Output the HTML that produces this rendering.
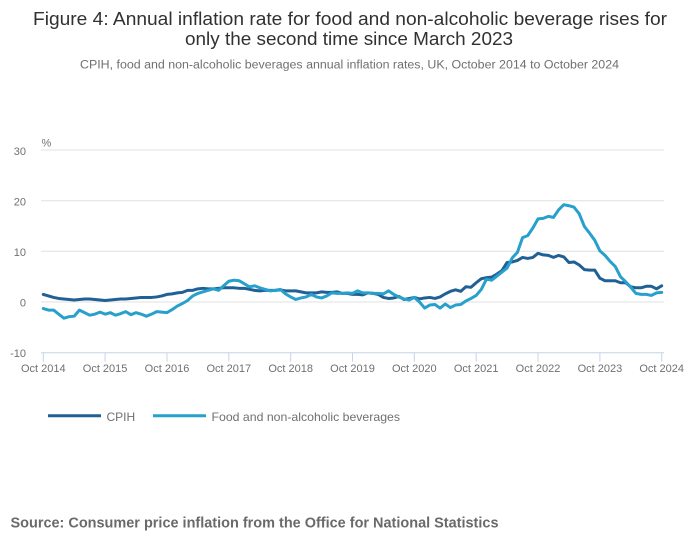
<!DOCTYPE html>
<html>
<head>
<meta charset="utf-8">
<style>
  html, body { margin:0; padding:0; background:#fff; }
  svg { display:block; }
  text { font-family: "Liberation Sans", sans-serif; }
</style>
</head>
<body>
<svg width="700" height="549" viewBox="0 0 700 549" xmlns="http://www.w3.org/2000/svg">
  <rect x="0" y="0" width="700" height="549" fill="#ffffff"/>

  <!-- Title -->
  <text x="350" y="25" text-anchor="middle" font-size="18.5" fill="#323132" textLength="634" lengthAdjust="spacingAndGlyphs">Figure 4: Annual inflation rate for food and non-alcoholic beverage rises for</text>
  <text x="349" y="45" text-anchor="middle" font-size="18.5" fill="#323132" textLength="328" lengthAdjust="spacingAndGlyphs">only the second time since March 2023</text>
  <text x="349.5" y="68.3" text-anchor="middle" font-size="11.5" fill="#707070" textLength="539" lengthAdjust="spacingAndGlyphs">CPIH, food and non-alcoholic beverages annual inflation rates, UK, October 2014 to October 2024</text>

  <!-- Gridlines -->
  <g stroke="#e0e0e0" stroke-width="1">
    <line x1="41" y1="150" x2="664" y2="150"/>
    <line x1="41" y1="200.7" x2="664" y2="200.7"/>
    <line x1="41" y1="251.3" x2="664" y2="251.3"/>
    <line x1="41" y1="302" x2="664" y2="302"/>
  </g>
  <!-- X axis line -->
  <line x1="41" y1="352.7" x2="664" y2="352.7" stroke="#c5d4e6" stroke-width="1"/>
  <g stroke="#c5d4e6" stroke-width="1">
    <line x1="43.3" y1="352.7" x2="43.3" y2="361.7"/>
    <line x1="105.1" y1="352.7" x2="105.1" y2="361.7"/>
    <line x1="167" y1="352.7" x2="167" y2="361.7"/>
    <line x1="228.8" y1="352.7" x2="228.8" y2="361.7"/>
    <line x1="290.7" y1="352.7" x2="290.7" y2="361.7"/>
    <line x1="352.5" y1="352.7" x2="352.5" y2="361.7"/>
    <line x1="414.3" y1="352.7" x2="414.3" y2="361.7"/>
    <line x1="476.2" y1="352.7" x2="476.2" y2="361.7"/>
    <line x1="538" y1="352.7" x2="538" y2="361.7"/>
    <line x1="599.9" y1="352.7" x2="599.9" y2="361.7"/>
    <line x1="661.7" y1="352.7" x2="661.7" y2="361.7"/>
  </g>

  <!-- Y labels -->
  <g font-size="11" fill="#707070" text-anchor="end">
    <text x="26" y="155">30</text>
    <text x="26" y="205.5">20</text>
    <text x="26" y="256">10</text>
    <text x="26" y="306.5">0</text>
    <text x="26" y="357">-10</text>
  </g>
  <text x="41.5" y="146.5" font-size="11" fill="#707070">%</text>

  <!-- X labels -->
  <g font-size="11" fill="#707070" text-anchor="middle">
    <text x="43.3" y="372">Oct 2014</text>
    <text x="105.1" y="372">Oct 2015</text>
    <text x="167" y="372">Oct 2016</text>
    <text x="228.8" y="372">Oct 2017</text>
    <text x="290.7" y="372">Oct 2018</text>
    <text x="352.5" y="372">Oct 2019</text>
    <text x="414.3" y="372">Oct 2020</text>
    <text x="476.2" y="372">Oct 2021</text>
    <text x="538" y="372">Oct 2022</text>
    <text x="599.9" y="372">Oct 2023</text>
    <text x="661.7" y="372">Oct 2024</text>
  </g>

  <!-- Series -->
  <g transform="translate(43.3,302) scale(5.1533,-5.067)">
    <polyline fill="none" stroke="#206095" stroke-width="3" vector-effect="non-scaling-stroke" stroke-linejoin="round" stroke-linecap="round"
      points="0,1.5 1,1.2 2,0.9 3,0.7 4,0.6 5,0.5 6,0.4 7,0.5 8,0.6 9,0.6 10,0.5 11,0.4 12,0.3 13,0.4 14,0.5 15,0.6 16,0.6 17,0.7 18,0.8 19,0.9 20,0.9 21,0.9 22,1.0 23,1.2 24,1.5 25,1.6 26,1.8 27,1.9 28,2.3 29,2.3 30,2.6 31,2.7 32,2.6 33,2.6 34,2.7 35,2.8 36,2.8 37,2.8 38,2.7 39,2.7 40,2.5 41,2.3 42,2.2 43,2.3 44,2.3 45,2.3 46,2.4 47,2.2 48,2.2 49,2.2 50,2.0 51,1.8 52,1.8 53,1.8 54,2.0 55,1.9 56,1.9 57,2.0 58,1.7 59,1.7 60,1.5 61,1.5 62,1.4 63,1.8 64,1.7 65,1.5 66,0.9 67,0.7 68,0.8 69,1.1 70,0.5 71,0.7 72,0.9 73,0.6 74,0.8 75,0.9 76,0.7 77,1.0 78,1.6 79,2.1 80,2.4 81,2.1 82,3.0 83,2.9 84,3.8 85,4.6 86,4.8 87,4.9 88,5.5 89,6.2 90,7.8 91,7.9 92,8.2 93,8.8 94,8.6 95,8.8 96,9.6 97,9.3 98,9.2 99,8.8 100,9.2 101,8.9 102,7.8 103,7.9 104,7.3 105,6.4 106,6.3 107,6.3 108,4.7 109,4.2 110,4.2 111,4.2 112,3.8 113,3.8 114,3.0 115,2.8 116,2.8 117,3.1 118,3.1 119,2.6 120,3.2"/>
    <polyline fill="none" stroke="#27a0cc" stroke-width="3" vector-effect="non-scaling-stroke" stroke-linejoin="round" stroke-linecap="round"
      points="0,-1.3 1,-1.6 2,-1.6 3,-2.4 4,-3.2 5,-2.9 6,-2.8 7,-1.6 8,-2.1 9,-2.6 10,-2.4 11,-2.0 12,-2.4 13,-2.1 14,-2.6 15,-2.3 16,-1.9 17,-2.5 18,-2.1 19,-2.4 20,-2.8 21,-2.4 22,-1.9 23,-2.0 24,-2.1 25,-1.5 26,-0.8 27,-0.3 28,0.3 29,1.2 30,1.7 31,2.0 32,2.3 33,2.6 34,2.3 35,3.2 36,4.1 37,4.3 38,4.2 39,3.6 40,3.0 41,3.2 42,2.8 43,2.5 44,2.2 45,2.3 46,2.5 47,1.6 48,1.0 49,0.5 50,0.8 51,1.0 52,1.5 53,1.0 54,0.8 55,1.2 56,1.8 57,1.7 58,1.7 59,1.8 60,1.7 61,2.2 62,1.8 63,1.8 64,1.7 65,1.7 66,1.6 67,2.2 68,1.5 69,1.0 70,0.6 71,0.4 72,0.9 73,0.0 74,-1.2 75,-0.6 76,-0.5 77,-1.2 78,-0.4 79,-1.1 80,-0.6 81,-0.5 82,0.2 83,0.7 84,1.3 85,2.5 86,4.5 87,4.3 88,5.1 89,5.9 90,6.7 91,8.7 92,9.8 93,12.7 94,13.1 95,14.6 96,16.4 97,16.5 98,16.9 99,16.7 100,18.2 101,19.2 102,19.0 103,18.7 104,17.4 105,14.9 106,13.6 107,12.2 108,10.1 109,9.2 110,8.0 111,7.0 112,5.0 113,4.0 114,2.9 115,1.7 116,1.5 117,1.5 118,1.3 119,1.8 120,1.9"/>
  </g>

  <!-- Legend -->
  <line x1="48" y1="415.7" x2="101" y2="415.7" stroke="#206095" stroke-width="3"/>
  <text x="106.5" y="421" font-size="12" fill="#707070">CPIH</text>
  <line x1="153" y1="415.7" x2="206" y2="415.7" stroke="#27a0cc" stroke-width="3"/>
  <text x="211.5" y="421" font-size="12" fill="#707070" textLength="188.5" lengthAdjust="spacingAndGlyphs">Food and non-alcoholic beverages</text>

  <!-- Source -->
  <text x="10.5" y="527.3" font-size="14.5" font-weight="bold" fill="#6a6a6a" textLength="488" lengthAdjust="spacingAndGlyphs">Source: Consumer price inflation from the Office for National Statistics</text>
</svg>
</body>
</html>
